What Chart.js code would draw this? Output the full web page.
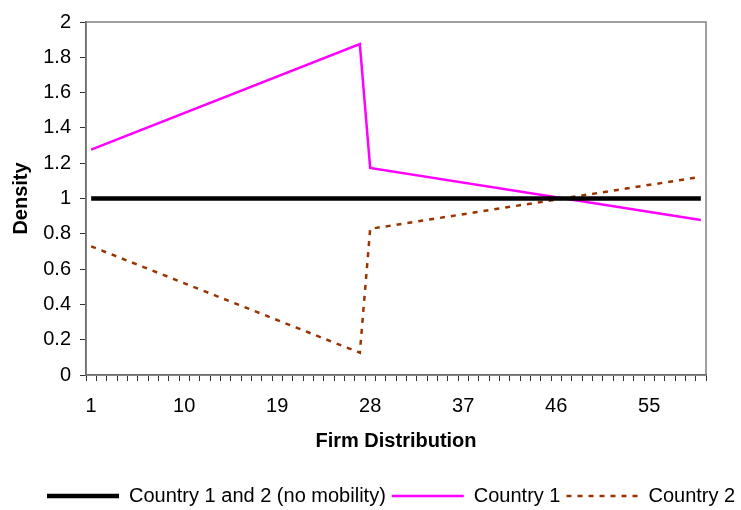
<!DOCTYPE html>
<html>
<head>
<meta charset="utf-8">
<script src="https://cdn.jsdelivr.net/npm/chart.js@4"></script>
<style>
  body { margin: 0; background: #fff; }
  #wrap { width: 741px; height: 510px; }
</style>
</head>
<body>
<div id="wrap"><canvas id="myChart" width="741" height="510"></canvas></div>
<script>
// categories on the x axis (firm index 1..60)
const firms = Array.from({ length: 60 }, (_, i) => String(i + 1));

// breakpoints, lines are straight between them
const noMobility = [{ x: '1', y: 1 }, { x: '60', y: 1 }];
const country1 = [{ x: '1', y: 1.277 }, { x: '27', y: 1.875 }, { x: '28', y: 1.173 }, { x: '60', y: 0.878 }];
const country2 = [{ x: '1', y: 0.729 }, { x: '27', y: 0.126 }, { x: '28', y: 0.828 }, { x: '60', y: 1.123 }];

const seriesNames = ['Country 1 and 2 (no mobility)', 'Country 1', 'Country 2'];
const labelEvery = 9;

const font = 'Liberation Sans, Arial, sans-serif';
Chart.defaults.font.family = font;
Chart.defaults.color = '#000';

// gray frame round the plot area, like the excel plot border
const frame = {
    id: 'frame',
    beforeDatasetsDraw(chart) {
        const a = chart.chartArea;
        const ctx = chart.ctx;
        ctx.save();
        ctx.strokeStyle = '#808080';
        ctx.lineWidth = 1.5;
        ctx.strokeRect(a.left, a.top, a.right - a.left, a.bottom - a.top);
        ctx.restore();
    }
};

// legend sits a bit right of centre in the original
const legendShift = {
    id: 'legendShift',
    afterLayout(chart) {
        const lg = chart.legend;
        lg.left += 41;
        lg.right += 41;
        lg.top += 6;
        lg.bottom += 6;
    }
};

const ctx = document.getElementById('myChart').getContext('2d');
new Chart(ctx, {
    type: 'line',
    data: {
        labels: firms,
        datasets: [
            { label: seriesNames[0], data: noMobility, borderColor: '#000', borderWidth: 4.5, pointRadius: 0 },
            { label: seriesNames[1], data: country1, borderColor: '#ff00ff', borderWidth: 2.5, pointRadius: 0 },
            { label: seriesNames[2], data: country2, borderColor: '#993300', borderWidth: 2.5, borderDash: [5, 6], pointRadius: 0 }
        ]
    },
    options: {
        responsive: false,
        animation: false,
        layout: { padding: { top: 22, right: 0, left: 0, bottom: 0 } },
        plugins: {
            tooltip: { enabled: false },
            legend: {
                position: 'bottom',
                align: 'start',
                labels: {
                    usePointStyle: true,
                    pointStyle: 'line',
                    pointStyleWidth: 72,
                    padding: 6,
                    font: { size: 20 },
                    color: '#000',
                    //point style labels lose the dash, put it back
                    generateLabels: (chart) => {
                        const items = Chart.defaults.plugins.legend.labels.generateLabels(chart);
                        items.forEach((it) => {
                            const ds = chart.data.datasets[it.datasetIndex];
                            it.lineDash = ds.borderDash || [];
                            it.lineWidth = ds.borderWidth;
                            it.strokeStyle = ds.borderColor;
                        });
                        return items;
                    }
                }
            }
        },
        scales: {
            x: {
                offset: true,
                afterFit: (scale) => { scale.paddingRight = 35; },
                grid: { offset: true, drawOnChartArea: false, tickLength: 6, color: '#333', tickWidth: 1 },
                border: { color: '#333', width: 1.5 },
                ticks: {
                    autoSkip: false,
                    maxRotation: 0,
                    padding: 13,
                    font: { size: 20 },
                    callback: function (v, i) { return i % labelEvery === 0 ? this.getLabelForValue(v) : ''; }
                },
                title: { display: true, text: 'Firm Distribution', font: { size: 20, weight: 'bold' }, padding: { top: -2, bottom: 21 } }
            },
            y: {
                min: 0,
                max: 2,
                afterFit: (scale) => { scale.width = 86; },
                grid: { drawOnChartArea: false, tickLength: 6, color: '#333' },
                border: { color: '#333', width: 1.5 },
                ticks: {
                    stepSize: 0.2,
                    padding: 9,
                    font: { size: 20 },
                    callback: (v) => String(Math.round(v * 10) / 10)
                },
                title: { display: true, text: 'Density', font: { size: 20, weight: 'bold' }, padding: { top: 9, bottom: 10 } }
            }
        }
    },
    plugins: [frame, legendShift]
});
</script>
</body>
</html>
